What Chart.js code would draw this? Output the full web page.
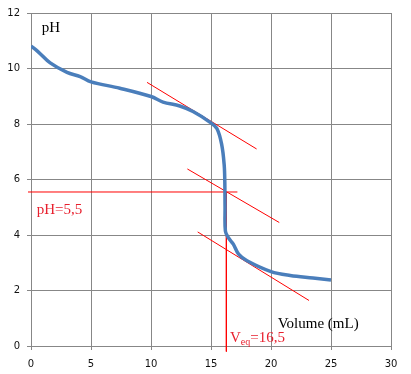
<!DOCTYPE html>
<html>
<head>
<meta charset="utf-8">
<script src="https://cdn.jsdelivr.net/npm/chart.js@4"></script>
<style>
  body { margin: 0; background: #fff; }
</style>
</head>
<body>
<canvas id="myChart" width="411" height="374"></canvas>
<script>
// titration curve
const volume = [0, 0.6, 1.6, 3, 4.1, 5, 7.4, 10, 11, 12.4, 13.5, 14.9, 15.5, 15.9, 16.1, 16.15, 16.17, 16.2, 16.45, 16.86, 17.3, 18, 20, 21.6, 23.5, 25];
const pH = [10.81, 10.6, 10.2, 9.86, 9.71, 9.52, 9.29, 8.99, 8.79, 8.65, 8.45, 8.07, 7.83, 7.24, 6.52, 5.93, 5.0, 4.14, 3.9, 3.67, 3.31, 3.07, 2.68, 2.54, 2.45, 2.38];

// tangents and equivalence construction
const tangentTop = [[9.67, 9.5], [18.8, 7.1]];
const tangentMid = [[13.03, 6.38], [20.69, 4.45]];
const tangentLow = [[13.89, 4.11], [23.17, 1.64]];
const pHLine = [[-0.25, 5.55], [17.2, 5.55]];
const veqLine = [[16.28, 5.55], [16.28, -0.2]];

const xTicks = [0, 5, 10, 15, 20, 25, 30];
const yTicks = [0, 2, 4, 6, 8, 10, 12];

const toPts = (arr) => arr.map((p) => ({ x: p[0], y: p[1] }));

const redLine = (pts) => ({
  data: toPts(pts),
  borderColor: "#ff0000",
  borderWidth: 1,
  pointRadius: 0,
  tension: 0,
  clip: false,
});

const textPlugin = {
  id: "labels",
  afterDatasetsDraw(chart) {
    const { ctx, scales } = chart;
    const px = (v) => scales.x.getPixelForValue(v);
    const py = (v) => scales.y.getPixelForValue(v);
    ctx.save();
    ctx.textBaseline = "alphabetic";
    ctx.textAlign = "left";
    ctx.font = "15px 'Liberation Serif'";
    ctx.fillStyle = "#000";
    ctx.fillText("pH", px(0.9), py(11.32));
    ctx.fillText("Volume (mL)", px(20.56), py(0.65));
    ctx.fillStyle = "#e8202e";
    ctx.fillText("pH=5,5", px(0.47), py(4.74));
    let x = px(16.58);
    const y = py(0.15);
    ctx.fillText("V", x, y);
    x += ctx.measureText("V").width;
    ctx.font = "10px 'Liberation Serif'";
    ctx.fillText("eq", x, y + 3);
    x += ctx.measureText("eq").width;
    ctx.font = "15px 'Liberation Serif'";
    ctx.fillText("=16,5", x, y);
    ctx.restore();
  },
};

const gridStyle = {
  color: "#878787",
  lineWidth: 1,
  tickLength: 4,
};

new Chart(document.getElementById("myChart"), {
  type: "line",
  data: {
    datasets: [
      {
        data: volume.map((v, i) => ({ x: v, y: pH[i] })),
        borderColor: "#4a7ebb",
        borderWidth: 3.5,
        pointRadius: 0,
        tension: 0.35,
      },
      redLine(tangentTop),
      redLine(tangentMid),
      redLine(tangentLow),
      redLine(pHLine),
      redLine(veqLine),
    ],
  },
  options: {
    responsive: false,
    animation: false,
    layout: { padding: { top: 10, right: 20, left: 0, bottom: 0 } },
    plugins: { legend: { display: false }, tooltip: { enabled: false } },
    scales: {
      x: {
        type: "linear",
        min: 0,
        max: 30,
        afterBuildTicks: (s) => { s.ticks = xTicks.map((v) => ({ value: v })); },
        afterFit: (s) => { s.height = 28; },
        grid: gridStyle,
        border: { color: "#878787" },
        ticks: { padding: 8, color: "#111", font: { family: "DejaVu Sans", size: 10 } },
      },
      y: {
        min: 0,
        max: 12,
        afterBuildTicks: (s) => { s.ticks = yTicks.map((v) => ({ value: v })); },
        afterFit: (s) => { s.width = 31; },
        grid: gridStyle,
        border: { color: "#878787" },
        ticks: { padding: 7, color: "#111", font: { family: "DejaVu Sans", size: 10 } },
      },
    },
  },
  plugins: [textPlugin],
});
</script>
</body>
</html>
